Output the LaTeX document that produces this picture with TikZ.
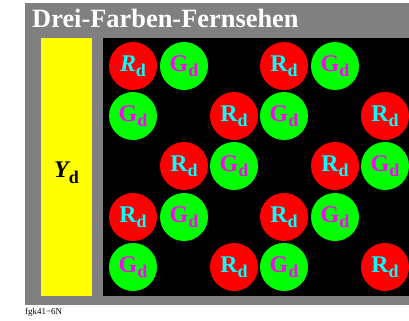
\documentclass[tikz,border=0pt]{standalone}
\usepackage{fontspec}
\setmainfont{Liberation Serif}
\definecolor{cy}{RGB}{0,255,255}
\definecolor{mg}{RGB}{255,0,255}
\definecolor{rd}{RGB}{255,0,0}
\definecolor{gr}{RGB}{0,255,0}
\definecolor{gy}{RGB}{128,128,128}
\definecolor{yl}{RGB}{255,255,0}
\begin{document}
\begin{tikzpicture}[x=1bp,y=-1bp,
  dot/.style={circle,inner sep=0pt,minimum size=48bp},
  rdot/.style={dot,fill=rd},
  gdot/.style={dot,fill=gr},
  lbl/.style={inner sep=0pt,font=\bfseries},
]
\useasboundingbox (0,0) rectangle (409,321);
\fill[gy] (25,3) rectangle (409,305);
\fill[yl] (41,38) rectangle (92,296);
\fill[black] (103,38) rectangle (409,296);
\node[anchor=base west,inner sep=0pt,text=white,font=\fontsize{26.5}{26.5}\selectfont\bfseries] (title) at (32,27) {Drei-Farben-Fernsehen};
\node[anchor=base west,inner sep=0pt,font=\bfseries] (yd) at (54,177) {{\fontsize{24}{24}\selectfont\itshape Y}\raisebox{-6bp}{\fontsize{18}{18}\selectfont d}};
\newcommand{\rtext}[1]{\textcolor{cy}{{\fontsize{24}{24}\selectfont #1}\raisebox{-5bp}{\fontsize{18}{18}\selectfont d}}}
\newcommand{\gtext}{\textcolor{mg}{{\fontsize{24}{24}\selectfont G}\raisebox{-5bp}{\fontsize{18}{18}\selectfont d}}}
% row 1
\node[rdot] (a1) at (133,66) {}; \node[lbl] at (a1) {\rtext{\itshape R}};
\node[gdot] (a2) at (184,66) {}; \node[lbl] at (a2) {\gtext};
\node[rdot] (a4) at (284,66) {}; \node[lbl] at (a4) {\rtext{R}};
\node[gdot] (a5) at (335,66) {}; \node[lbl] at (a5) {\gtext};
% row 2
\node[gdot] (b1) at (133,116) {}; \node[lbl] at (b1) {\gtext};
\node[rdot] (b3) at (234,116) {}; \node[lbl] at (b3) {\rtext{R}};
\node[gdot] (b4) at (284,116) {}; \node[lbl] at (b4) {\gtext};
\node[rdot] (b6) at (385,116) {}; \node[lbl] at (b6) {\rtext{R}};
% row 3
\node[rdot] (c2) at (184,166) {}; \node[lbl] at (c2) {\rtext{R}};
\node[gdot] (c3) at (234,166) {}; \node[lbl] at (c3) {\gtext};
\node[rdot] (c5) at (335,166) {}; \node[lbl] at (c5) {\rtext{R}};
\node[gdot] (c6) at (385,166) {}; \node[lbl] at (c6) {\gtext};
% row 4
\node[rdot] (d1) at (133,217) {}; \node[lbl] at (d1) {\rtext{R}};
\node[gdot] (d2) at (184,217) {}; \node[lbl] at (d2) {\gtext};
\node[rdot] (d4) at (284,217) {}; \node[lbl] at (d4) {\rtext{R}};
\node[gdot] (d5) at (335,217) {}; \node[lbl] at (d5) {\gtext};
% row 5
\node[gdot] (e1) at (133,267) {}; \node[lbl] at (e1) {\gtext};
\node[rdot] (e3) at (234,267) {}; \node[lbl] at (e3) {\rtext{R}};
\node[gdot] (e4) at (284,267) {}; \node[lbl] at (e4) {\gtext};
\node[rdot] (e6) at (385,267) {}; \node[lbl] at (e6) {\rtext{R}};
\node[anchor=base west,inner sep=0pt,font=\fontsize{9}{9}\selectfont] (foot) at (25,314) {fgk41−6N};
\end{tikzpicture}
\end{document}
